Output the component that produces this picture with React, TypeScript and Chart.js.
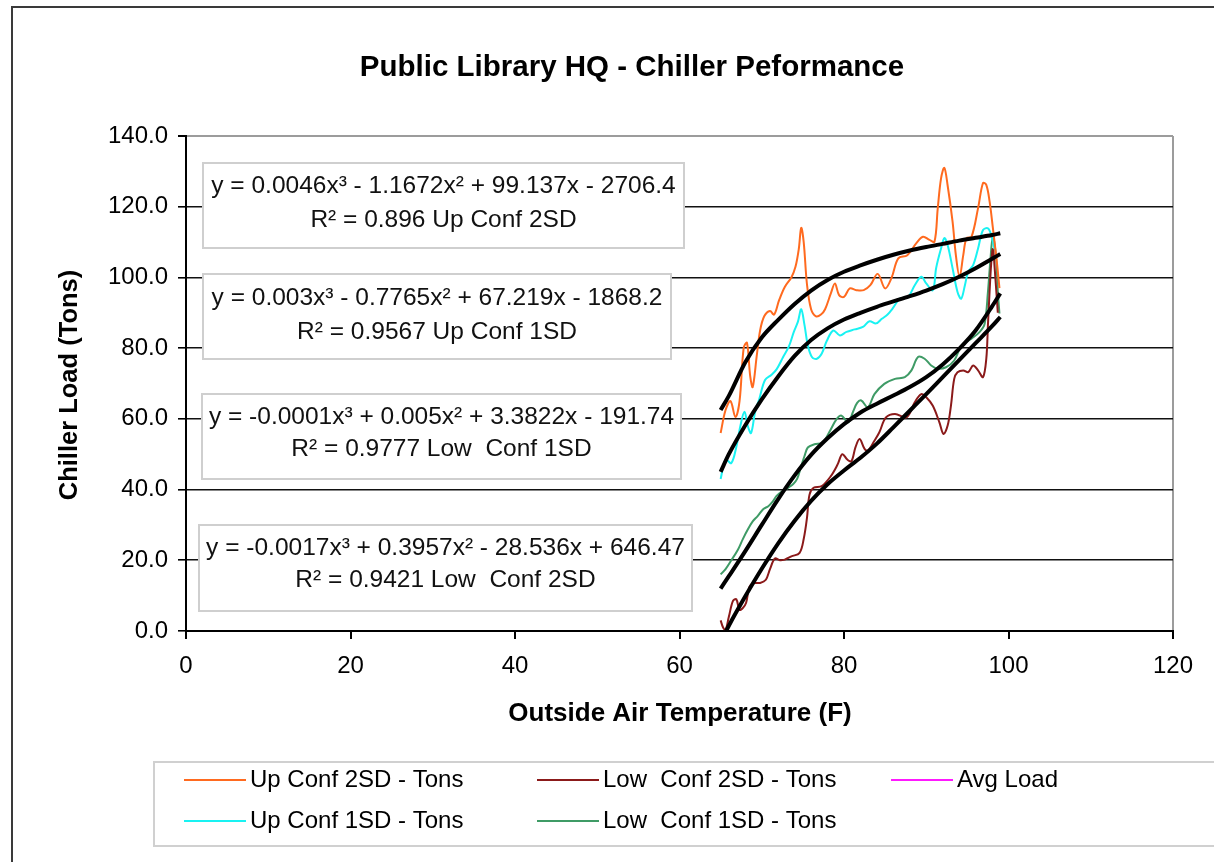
import React, { useEffect, useRef } from 'react';
import { Chart, registerables } from 'chart.js';

Chart.register(...registerables);

const FONT = '"Liberation Sans", Arial, Helvetica, sans-serif';

const chartTitle = 'Public Library HQ - Chiller Peformance';
const xAxisTitle = 'Outside Air Temperature (F)';
const yAxisTitle = 'Chiller Load (Tons)';

const xMin = 0;
const xMax = 120;
const xStep = 20;
const yMin = 0;
const yMax = 140;
const yStep = 20;

// Series: Up Conf 2SD - Tons
const up2sdX = [65.0, 65.6, 66.2, 66.8, 67.3, 67.8, 68.2, 68.6, 68.9, 69.4, 69.8, 70.3, 71.0, 71.5, 72.1, 72.8, 73.6, 74.1, 74.5, 74.8, 75.1, 75.5, 76.0, 76.6, 77.2, 77.7, 78.4, 78.9, 79.4, 80.0, 80.7, 81.5, 82.4, 83.2, 84.1, 85.0, 85.8, 86.6, 87.7, 88.8, 89.6, 90.4, 91.0, 91.4, 91.8, 92.2, 92.6, 93.2, 93.6, 94.05, 94.5, 94.9, 95.5, 96.3, 96.9, 97.3, 97.7, 98.1, 98.6, 98.9];
const up2sdY = [56, 62.5, 65, 60.5, 65, 80, 81.5, 72, 69, 78, 85, 89, 90.5, 89.5, 93.5, 97.3, 100, 103, 108, 114, 110, 98, 91, 89, 89.5, 91, 95.5, 98.3, 95, 94.5, 96.9, 96.4, 96.4, 97.8, 101, 96.9, 100, 105.4, 106.3, 109.7, 111.5, 110.6, 110.1, 119.6, 128, 131, 126, 115.8, 106.3, 100.2, 106.3, 111.1, 111.5, 119.6, 126.7, 126.2, 121.5, 114, 104, 97];

// Series: Up Conf 1SD - Tons
const up1sdX = [65.0, 65.6, 66.3, 66.9, 67.4, 67.9, 68.3, 68.7, 69.2, 69.7, 70.4, 71.2, 71.8, 72.6, 73.3, 73.9, 74.4, 74.8, 75.2, 75.6, 76.1, 76.7, 77.3, 77.9, 78.7, 79.5, 80.3, 81.3, 82.3, 83.1, 83.9, 84.6, 85.3, 85.9, 86.8, 87.8, 88.6, 89.4, 90.0, 90.8, 91.2, 91.8, 92.2, 92.6, 93.2, 93.8, 94.25, 94.7, 95.1, 95.7, 96.3, 96.9, 97.5, 97.9, 98.3];
const up1sdY = [43, 48.5, 47.5, 52, 58, 62, 58, 56, 62, 65.6, 71, 72.5, 74, 77.5, 80.5, 84.6, 87.5, 91, 86.5, 80.8, 77.5, 77, 78.5, 82, 85, 83.6, 84.6, 85.3, 86, 87.6, 87, 88.3, 89.5, 91.2, 94, 94.5, 97.8, 100.2, 98.3, 96.4, 102.6, 108.2, 111.1, 109.2, 102.6, 95.9, 94, 97.8, 101.6, 103.5, 108.2, 113.4, 113.9, 112, 108];

// Series: Low Conf 2SD - Tons
const low2sdX = [65.0, 65.3, 65.6, 66.0, 66.5, 66.9, 67.3, 67.7, 68.1, 68.5, 69.0, 69.8, 70.5, 71.0, 71.6, 72.2, 72.8, 73.6, 74.6, 75.1, 75.5, 75.8, 76.3, 77.3, 78.4, 79.2, 79.8, 80.4, 80.9, 81.4, 81.9, 82.5, 82.9, 83.7, 84.3, 85.1, 86.2, 87.6, 88.6, 89.4, 90.0, 90.8, 91.6, 92.1, 92.6, 93.0, 93.4, 93.8, 94.5, 95.1, 95.7, 96.3, 96.9, 97.3, 97.5, 97.7, 97.9, 98.1, 98.4, 98.7];
const low2sdY = [3, 1, 0.3, 4, 8.5, 9, 6, 6.5, 8, 12.5, 13.5, 13.6, 14.5, 17.5, 20.5, 20, 20.2, 21.1, 22.1, 26, 32, 38.5, 40.5, 41, 43.8, 47, 50, 48.5, 48, 52, 54.3, 51.5, 51, 53.8, 56.2, 60.4, 61.4, 60.4, 64.7, 67, 66.1, 63.7, 59, 55.7, 58.1, 63.7, 71.3, 73.2, 73.7, 73.2, 75.1, 73.7, 71.8, 77, 86.5, 96, 104, 108, 100, 90];

// Series: Low Conf 1SD - Tons
const low1sdX = [65.0, 65.6, 66.3, 67.1, 67.7, 68.3, 68.9, 69.5, 70.2, 70.8, 71.3, 71.8, 72.5, 73.2, 73.8, 74.3, 74.8, 75.2, 75.6, 76.4, 77.4, 78.2, 79.1, 79.7, 80.5, 81.1, 81.6, 82.1, 82.9, 83.7, 84.9, 86.2, 87.4, 88.2, 89.0, 89.8, 90.6, 91.4, 92.4, 93.4, 94.3, 95.5, 96.5, 97.1, 97.5, 97.8, 98.1, 98.5, 98.7, 98.9];
const low1sdY = [16, 17.5, 20, 23, 26, 28.7, 31, 32.5, 34.5, 35.3, 36.5, 38.2, 39.5, 40.5, 41.5, 43, 46.7, 49.5, 51.9, 52.8, 53.3, 56.2, 59.9, 60.9, 59, 62, 64.5, 65.2, 63.3, 67, 69.9, 71.3, 71.8, 73.7, 77.5, 77, 75.1, 74.2, 74.6, 76.5, 80.8, 82.7, 84.6, 86.9, 95.9, 105, 111.5, 105.4, 96, 89.8];

// Series: Avg Load (not visible in the plot)
const avgX: number[] = [];
const avgY: number[] = [];

// Polynomial trendlines
const trendX = [65, 66, 68, 70, 72, 74, 76, 78, 80, 82, 84, 86, 88, 90, 92, 94, 96, 98, 99];
const trendUp2sdY = [62.5, 66.5, 76, 83, 88, 92.5, 96.3, 99.3, 101.6, 103.4, 105, 106.4, 107.6, 108.6, 109.5, 110.4, 111.2, 112, 112.5];
const trendUp1sdY = [45, 50, 58.2, 65.5, 72, 77.8, 82.3, 85.6, 88.1, 90, 91.7, 93.2, 94.7, 96.3, 98.1, 100.2, 102.6, 105.3, 106.6];
const trendLow1sdY = [12, 15.5, 22.6, 30, 37.3, 44, 49.8, 54.5, 58.5, 61.8, 64.3, 66.6, 69, 71.8, 75.4, 79.8, 85, 91.8, 95.5];
const trendLow2sdY = [-3, 1.5, 9.8, 17.6, 24.8, 31.2, 36.8, 41.5, 45.4, 49, 53, 57.6, 62.3, 67, 71.8, 76.6, 81.4, 86.2, 88.8];

// Trendline labels
const eqUp2sd = ['y = 0.0046x³ - 1.1672x² + 99.137x - 2706.4', 'R² = 0.896 Up Conf 2SD'];
const eqUp1sd = ['y = 0.003x³ - 0.7765x² + 67.219x - 1868.2', 'R² = 0.9567 Up Conf 1SD'];
const eqLow1sd = ['y = -0.0001x³ + 0.005x² + 3.3822x - 191.74', 'R² = 0.9777 Low  Conf 1SD'];
const eqLow2sd = ['y = -0.0017x³ + 0.3957x² - 28.536x + 646.47', 'R² = 0.9421 Low  Conf 2SD'];

const seriesLabels = ['Up Conf 2SD - Tons', 'Up Conf 1SD - Tons', 'Low  Conf 2SD - Tons', 'Low  Conf 1SD - Tons', 'Avg Load'];
const seriesColors = ['#FF6A1F', '#19F2F2', '#8B1A1A', '#3F9B66', '#FF19FF'];

const toPts = (xs: number[], ys: number[]) => xs.map((x, i) => ({ x, y: ys[i] }));

const W = 1214;
const H = 862;

const decorPlugin = {
  id: 'decor',
  beforeDraw(chart: any) {
    const ctx = chart.ctx;
    ctx.save();
    ctx.fillStyle = '#ffffff';
    ctx.fillRect(0, 0, W, H);
    ctx.strokeStyle = '#3a3a3a';
    ctx.lineWidth = 2;
    ctx.strokeRect(12, 7, 1400, 1000);
    ctx.restore();
  },
  afterDraw(chart: any) {
    const ctx = chart.ctx;
    ctx.save();
    // Title
    ctx.fillStyle = '#000';
    ctx.textAlign = 'center';
    ctx.textBaseline = 'middle';
    ctx.font = `bold 29.5px ${FONT}`;
    ctx.fillText(chartTitle, 632, 68);
    // Axis titles
    ctx.font = `bold 26px ${FONT}`;
    ctx.fillText(xAxisTitle, 680, 714);
    ctx.save();
    ctx.translate(70, 385);
    ctx.rotate(-Math.PI / 2);
    ctx.font = `bold 25.5px ${FONT}`;
    ctx.fillText(yAxisTitle, 0, 0);
    ctx.restore();

    // Trendline equation boxes
    const boxes = [
      { lines: eqUp2sd, x: 203, y: 163, w: 481, h: 85, t: [186, 220] },
      { lines: eqUp1sd, x: 203, y: 274, w: 468, h: 85, t: [298, 332] },
      { lines: eqLow1sd, x: 202, y: 394, w: 479, h: 85, t: [417, 449] },
      { lines: eqLow2sd, x: 199, y: 525, w: 493, h: 86, t: [548, 580] },
    ];
    boxes.forEach((b) => {
      ctx.fillStyle = '#fff';
      ctx.fillRect(b.x, b.y, b.w, b.h);
      ctx.strokeStyle = '#cfcfcf';
      ctx.lineWidth = 2;
      ctx.strokeRect(b.x, b.y, b.w, b.h);
      ctx.fillStyle = '#111';
      ctx.font = `24.5px ${FONT}`;
      ctx.textAlign = 'center';
      ctx.textBaseline = 'middle';
      b.lines.forEach((ln, i) => ctx.fillText(ln, b.x + b.w / 2, b.t[i]));
    });

    // Legend
    ctx.fillStyle = '#fff';
    ctx.fillRect(154, 762, 1100, 84);
    ctx.strokeStyle = '#d0d0d0';
    ctx.lineWidth = 2;
    ctx.strokeRect(154, 762, 1100, 84);
    const slots = [
      [184, 780],
      [184, 821],
      [537, 780],
      [537, 821],
      [891, 780],
    ];
    chart.data.datasets
      .filter((d: any) => !d.isTrend)
      .forEach((d: any, i: number) => {
        const [lx, ly] = slots[i];
        ctx.strokeStyle = d.borderColor;
        ctx.lineWidth = 2;
        ctx.beginPath();
        ctx.moveTo(lx, ly);
        ctx.lineTo(lx + 62, ly);
        ctx.stroke();
        ctx.fillStyle = '#000';
        ctx.font = `24px ${FONT}`;
        ctx.textAlign = 'left';
        ctx.textBaseline = 'middle';
        ctx.fillText(d.label, lx + 66, ly);
      });
    ctx.restore();
  },
};

export default function App() {
  const ref = useRef<HTMLCanvasElement | null>(null);

  useEffect(() => {
    if (!ref.current) return;
    const seriesX = [up2sdX, up1sdX, low2sdX, low1sdX, avgX];
    const seriesY = [up2sdY, up1sdY, low2sdY, low1sdY, avgY];
    const trendYs = [trendUp2sdY, trendUp1sdY, trendLow1sdY, trendLow2sdY];

    const datasets: any[] = [];
    seriesLabels.forEach((label, i) => {
      datasets.push({
        label,
        data: toPts(seriesX[i], seriesY[i]),
        borderColor: seriesColors[i],
        backgroundColor: seriesColors[i],
        borderWidth: 2,
        pointRadius: 0,
        showLine: true,
        tension: 0.35,
        order: 2,
      });
    });
    trendYs.forEach((ys, i) => {
      datasets.push({
        label: 'trend' + i,
        isTrend: true,
        data: toPts(trendX, ys),
        borderColor: '#000',
        backgroundColor: '#000',
        borderWidth: 4,
        pointRadius: 0,
        showLine: true,
        cubicInterpolationMode: 'monotone',
        order: 1,
      });
    });

    const chart = new Chart(ref.current, {
      type: 'scatter',
      data: { datasets },
      options: {
        responsive: false,
        animation: false,
        devicePixelRatio: 1,
        layout: { padding: { left: 76, right: 41, top: 136, bottom: 131 } },
        plugins: {
          legend: { display: false },
          title: { display: false },
          tooltip: { enabled: false },
        },
        scales: {
          x: {
            type: 'linear',
            min: xMin,
            max: xMax,
            afterFit: (s: any) => {
              s.height = 100;
            },
            ticks: {
              stepSize: xStep,
              color: '#000',
              font: { family: FONT, size: 24 },
              padding: 13,
            },
            grid: {
              drawOnChartArea: true,
              color: (c: any) => (c.tick && c.tick.value === xMax ? '#9c9c9c' : 'rgba(0,0,0,0)'),
              lineWidth: 2,
              tickColor: '#000',
              tickLength: 8,
            },
            border: { display: true, color: '#000', width: 2 },
          },
          y: {
            type: 'linear',
            min: yMin,
            max: yMax,
            afterFit: (s: any) => {
              s.width = 110;
            },
            ticks: {
              stepSize: yStep,
              color: '#000',
              font: { family: FONT, size: 24 },
              padding: 10,
              callback: (v: any) => Number(v).toFixed(1),
            },
            grid: {
              color: (c: any) =>
                c.tick && c.tick.value === yMax ? '#9c9c9c' : c.tick && c.tick.value === yMin ? 'rgba(0,0,0,0)' : '#111',
              lineWidth: (c: any) => (c.tick && c.tick.value === yMax ? 2 : 1.6),
              tickColor: '#000',
              tickLength: 8,
            },
            border: { display: true, color: '#000', width: 2 },
          },
        },
      } as any,
      plugins: [decorPlugin],
    });
    return () => chart.destroy();
  }, []);

  return (
    <div style={{ position: 'absolute', left: 0, top: 0, width: W, height: H, overflow: 'hidden', background: '#fff' }}>
      <canvas ref={ref} width={W} height={H} style={{ display: 'block', width: W, height: H }} />
    </div>
  );
}
